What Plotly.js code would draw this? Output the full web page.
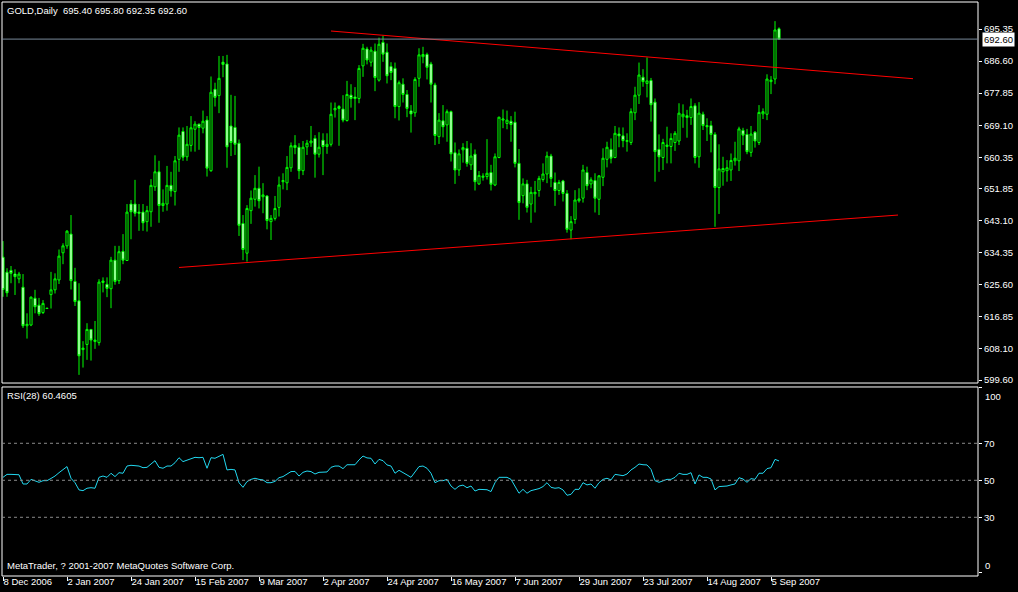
<!DOCTYPE html>
<html><head><meta charset="utf-8">
<script src="https://cdn.plot.ly/plotly-3.0.1.min.js"></script>
<style>html,body{margin:0;padding:0;background:#000;overflow:hidden}#chart{width:1018px;height:592px}</style>
</head><body><div id="chart"></div>
<script>
const symbolName = 'GOLD,Daily';
const rsiName = 'RSI(28)';
const copyright = 'MetaTrader, ? 2001-2007 MetaQuotes Software Corp.';

const openP = [
633.1,629.0,629.5,628.5,627.2,624.9,614.4,614.6,621.9,620.0,
618.0,619.2,622.9,624.2,626.9,634.3,636.2,639.4,626.5,621.2,
607.9,609.3,613.4,610.1,609.8,626.2,625.7,624.5,632.3,626.7,
634.7,632.2,647.6,647.6,645.4,645.4,642.8,645.5,652.3,656.4,
647.2,647.6,652.7,651.0,659.8,667.4,660.5,663.6,668.0,669.4,
668.3,670.5,656.7,678.9,677.2,686.3,685.8,668.9,668.5,664.2,
642.3,634.2,645.8,648.9,651.9,649.6,649.8,642.8,643.7,646.7,
653.7,653.4,657.5,663.6,663.1,656.7,663.2,664.3,665.5,661.2,
665.0,663.3,663.9,673.3,674.2,673.5,670.4,677.3,676.8,676.4,
685.3,689.9,686.3,689.3,681.4,691.7,689.0,685.1,684.6,674.2,
680.3,677.5,673.0,672.5,681.9,687.8,688.4,685.8,680.1,666.0,
670.3,669.2,672.8,661.6,656.9,662.4,662.8,658.3,661.2,653.1,
654.9,655.1,656.2,652.8,660.3,670.5,669.6,670.2,669.9,658.7,
649.9,653.1,647.6,650.4,651.3,654.3,655.8,660.7,653.5,651.3,
653.9,650.5,640.5,643.4,648.5,649.2,656.2,653.1,654.0,648.9,
654.9,659.8,662.5,660.3,666.7,666.2,664.7,664.4,672.5,677.3,
682.2,680.5,681.3,675.4,662.5,660.3,663.3,663.3,664.4,664.8,
671.4,671.7,671.2,674.4,660.5,672.1,669.0,669.0,666.6,652.1,
656.4,656.7,656.9,659.4,659.4,667.7,666.6,661.7,667.2,664.4,
672.2,672.1,681.0,681.7,695.40];

const highP = [
637.5,630.1,630.7,629.8,629.1,628.5,617.8,622.4,624.2,622.0,
621.4,619.3,629.1,628.7,635.2,636.9,640.5,644.6,630.2,626.0,
610.2,615.1,613.5,615.7,627.1,627.6,627.6,633.2,636.2,636.2,
639.4,647.6,648.7,654.2,647.6,647.6,647.1,654.4,660.9,659.4,
651.6,658.0,656.4,660.7,668.5,668.5,668.9,671.6,670.2,669.5,
673.1,671.6,682.4,680.7,688.0,688.0,688.3,677.4,677.1,665.2,
644.6,647.3,651.3,655.5,657.8,653.3,650.0,644.6,649.8,655.1,
656.0,660.7,664.4,666.4,664.2,664.8,665.1,668.9,666.4,667.2,
666.9,666.9,675.3,675.3,674.6,677.3,681.2,680.3,679.5,685.5,
691.3,690.5,690.5,691.4,693.0,693.5,691.4,686.3,686.2,681.3,
681.9,678.7,674.6,682.2,690.1,690.5,688.9,686.4,680.7,672.4,
674.6,673.4,673.1,664.4,662.5,664.2,664.8,664.2,662.5,656.6,
656.0,665.3,658.3,661.4,671.4,673.4,673.1,671.6,672.8,662.6,
654.6,654.2,652.3,653.9,655.3,658.7,661.9,661.3,656.2,654.2,
654.2,651.4,644.3,651.4,651.9,658.3,657.8,654.9,656.0,655.5,
662.8,664.6,665.5,668.9,668.5,668.5,666.9,673.7,679.6,686.2,
684.4,687.6,682.0,676.4,666.6,665.4,668.7,666.9,667.5,675.1,
674.8,673.3,676.4,675.1,675.4,672.8,671.0,670.3,667.2,663.9,
660.5,659.6,661.4,664.6,668.7,668.4,668.1,668.9,667.5,674.6,
673.7,683.0,682.5,697.5,695.80];

const lowP = [
622.3,622.3,626.0,622.8,626.0,613.8,610.9,614.3,617.8,617.1,
617.6,619.0,619.1,623.2,625.8,631.2,635.4,624.3,619.8,601.0,
603.0,605.1,604.9,608.1,609.0,623.5,622.2,619.2,625.6,625.8,
631.2,632.1,638.0,644.2,640.3,640.3,640.1,641.4,651.2,642.5,
645.5,645.8,649.6,647.2,656.4,659.4,659.4,661.9,661.9,662.4,
666.9,655.1,656.4,674.2,672.4,682.2,657.5,660.7,661.0,638.9,
632.3,631.9,642.2,646.9,646.4,645.1,640.7,637.8,643.1,644.2,
651.6,651.4,656.4,661.2,654.4,655.5,661.0,663.2,654.8,660.3,
655.5,661.3,663.3,671.2,663.5,669.9,670.1,673.9,670.5,675.1,
682.3,685.7,685.1,678.4,681.0,686.4,680.5,681.4,671.0,670.4,
675.3,671.3,667.1,671.4,679.6,686.0,681.6,675.3,663.7,664.0,
665.8,664.6,659.2,653.1,655.3,658.9,657.8,656.9,651.3,652.8,
654.0,654.3,651.3,652.5,660.1,668.3,668.0,664.6,657.6,643.3,
647.8,645.3,642.5,645.3,649.6,653.7,653.3,652.2,647.1,650.1,
648.3,639.8,638.0,642.2,648.0,648.0,651.4,651.9,645.3,644.6,
652.5,657.6,658.7,660.1,663.1,663.1,661.9,663.7,670.5,674.9,
679.6,676.7,670.1,653.7,656.4,656.9,658.7,658.7,662.1,663.7,
668.4,665.7,669.2,658.7,657.5,667.8,664.8,661.7,641.4,644.9,
652.6,653.7,653.9,658.1,656.6,663.7,661.2,660.5,663.0,663.7,
670.8,670.5,677.6,680.3,692.35];

const closeP = [
624.3,623.4,628.7,627.8,628.5,614.4,614.8,622.2,619.6,617.7,
620.5,619.1,624.2,627.2,633.4,636.2,640.2,626.7,621.0,606.2,
608.3,613.4,610.5,610.5,626.3,626.6,624.6,632.3,626.5,634.6,
632.3,645.4,645.5,645.1,645.1,642.5,645.8,652.7,656.4,647.2,
647.8,652.7,651.2,659.4,666.4,660.4,663.9,668.4,669.4,668.5,
670.2,657.4,678.1,676.7,681.9,685.7,663.2,664.4,663.9,641.8,
635.2,646.4,649.2,651.9,648.5,650.1,643.1,643.7,646.4,652.8,
654.0,657.6,663.5,663.0,656.7,663.1,664.2,664.8,661.2,663.1,
663.3,663.9,672.1,673.7,673.7,670.5,677.5,676.4,676.4,684.6,
690.1,686.9,689.6,682.1,691.2,688.5,682.6,683.5,674.2,680.7,
677.5,673.7,672.2,681.6,688.3,688.4,684.9,680.3,666.3,670.5,
668.7,672.8,661.3,656.9,661.3,663.0,658.7,660.7,653.7,655.4,
655.2,656.0,653.0,660.5,671.3,670.8,670.5,669.3,658.7,648.0,
653.1,646.7,650.8,650.8,654.6,655.8,660.7,654.6,651.3,653.5,
650.5,640.7,642.8,648.7,649.0,656.9,652.6,654.2,649.2,655.3,
660.1,663.1,660.1,666.9,666.2,664.9,664.9,672.8,677.3,682.8,
681.0,681.2,674.7,661.9,660.5,664.4,663.7,665.5,666.9,672.4,
672.1,671.2,674.2,660.3,672.4,669.0,668.7,666.6,652.1,657.2,
657.3,657.5,659.5,660.1,668.1,666.4,661.9,666.7,664.8,672.6,
672.8,681.7,681.4,695.1,692.60];

const rsiValues = [
51.6,53.2,53.2,53.2,53.0,48.0,48.0,50.5,49.8,48.9,
49.8,49.8,51.0,52.3,54.1,55.6,57.4,51.1,48.7,44.8,
44.4,45.7,46.0,45.7,51.6,52.3,51.6,53.8,52.0,54.1,
53.8,57.7,58.1,57.9,57.7,56.8,57.0,58.8,60.6,57.0,
56.5,57.7,57.7,59.5,62.2,60.1,61.0,61.9,62.4,62.2,
62.4,56.5,62.2,61.9,63.1,64.0,55.6,55.9,55.6,48.7,
46.2,49.3,50.5,51.1,50.5,50.2,48.7,48.7,49.4,51.4,
52.0,53.4,54.7,54.8,52.3,54.3,55.0,54.7,53.4,54.3,
54.3,54.5,57.0,57.7,57.7,56.3,58.4,58.4,58.4,61.0,
63.1,62.1,61.9,58.8,61.3,60.6,58.3,57.7,53.8,55.4,
54.3,52.9,51.6,54.7,57.4,57.7,56.5,53.8,48.7,49.8,
49.8,50.5,46.9,45.1,46.9,47.4,46.0,46.9,44.2,45.1,
45.1,44.9,43.9,48.7,51.6,51.6,51.6,50.5,46.6,43.0,
45.1,43.0,44.4,44.8,45.5,46.6,48.7,46.2,45.7,46.0,
44.8,41.9,42.4,45.1,45.1,48.7,47.5,48.0,45.7,48.7,
50.5,51.1,50.2,53.2,52.9,52.5,53.4,55.6,57.0,58.8,
58.4,58.3,55.9,49.8,48.9,49.8,50.5,50.5,51.6,53.8,
53.2,53.2,54.1,48.0,52.9,51.6,51.6,50.7,44.8,46.6,
46.6,46.9,47.5,48.0,51.4,50.7,48.9,50.9,50.5,53.8,
53.8,56.3,56.8,61.3,60.4605];

const dateTickBars = [0,16,32,48,64,80,96,112,128,144,160,176,192];
const dateTickLabels = ['8 Dec 2006','2 Jan 2007','24 Jan 2007','15 Feb 2007','9 Mar 2007','2 Apr 2007','24 Apr 2007','16 May 2007','7 Jun 2007','29 Jun 2007','23 Jul 2007','14 Aug 2007','5 Sep 2007'];
const priceTicks = ['695.35','686.60','677.85','669.10','660.35','651.85','643.10','634.35','625.60','616.85','608.10','599.60'];
const rsiTicks = ['100','70','50','30','0'];
const rsiLevels = [70,50,30];

const upperTrendBars = [82, 227.5];
const upperTrendPrices = [694.8, 681.8];
const lowerTrendBars = [44, 223.75];
const lowerTrendPrices = [630.3, 644.6];

const barIndex = openP.map((_, i) => i);
const last = openP.length - 1;
const FONT = 'Liberation Sans, Arial, sans-serif';
const FS = 9.5;
const LIME = '#00ff00';
const WHITE = '#ffffff';

const traces = [
  {type:'candlestick', x: barIndex, open: openP, high: highP, low: lowP, close: closeP,
   xaxis:'x', yaxis:'y', whiskerwidth:0, hoverinfo:'none',
   increasing:{line:{color:LIME,width:1}, fillcolor:'#000000'},
   decreasing:{line:{color:LIME,width:1}, fillcolor:WHITE}},
  {type:'scatter', mode:'lines', x: upperTrendBars, y: upperTrendPrices, xaxis:'x', yaxis:'y',
   line:{color:'#ff0000', width:1}, hoverinfo:'none'},
  {type:'scatter', mode:'lines', x: lowerTrendBars, y: lowerTrendPrices, xaxis:'x', yaxis:'y',
   line:{color:'#ff0000', width:1}, hoverinfo:'none'},
  {type:'scatter', mode:'lines', x: barIndex, y: rsiValues, xaxis:'x', yaxis:'y2',
   line:{color:'#22d8f0', width:1}, hoverinfo:'none'}
];

const mainDomain = [0.3362, 1];
const rsiDomain = [0, 0.3293];

const shapes = [
  {type:'rect', xref:'paper', yref:'paper', x0:0, x1:1, y0:mainDomain[0], y1:mainDomain[1], line:{color:WHITE, width:1}},
  {type:'rect', xref:'paper', yref:'paper', x0:0, x1:1, y0:rsiDomain[0], y1:rsiDomain[1], line:{color:WHITE, width:1}},
  {type:'line', xref:'paper', yref:'y', x0:0, x1:1, y0:closeP[last], y1:closeP[last], line:{color:'#778899', width:1}}
].concat(rsiLevels.map(v => ({type:'line', xref:'paper', yref:'y2', x0:0, x1:1, y0:v, y1:v,
  line:{color:'#8a8a8a', width:1, dash:'3px,3px'}})));

// RSI scale end labels (100 at top, 0 at bottom) sit inside the panel as in MetaTrader
const rsiEndLabels = [rsiTicks[0], rsiTicks[rsiTicks.length - 1]];

const annotations = [
  {xref:'paper', yref:'paper', x:0.003, y:0.998, xanchor:'left', yanchor:'top', showarrow:false,
   text: symbolName + '  ' + [openP[last], highP[last], lowP[last], closeP[last]].map(v => v.toFixed(2)).join(' '),
   font:{family:FONT, size:FS, color:WHITE}},
  {xref:'paper', yref:'paper', x:0.003, y:0.3275, xanchor:'left', yanchor:'top', showarrow:false,
   text: rsiName + ' ' + rsiValues[last].toFixed(4), font:{family:FONT, size:FS, color:WHITE}},
  {xref:'paper', yref:'paper', x:0.003, y:0.0175, xanchor:'left', yanchor:'middle', showarrow:false,
   text: copyright, font:{family:FONT, size:FS, color:WHITE}},
  {xref:'paper', yref:'y', x:1.0045, y:closeP[last], xanchor:'left', yanchor:'middle', showarrow:false,
   text: closeP[last].toFixed(2), bgcolor:WHITE, borderpad:1, font:{family:FONT, size:FS, color:'#000000'}},
  {xref:'paper', yref:'y2', x:1.005, y:Number(rsiEndLabels[0]), xanchor:'left', yanchor:'top', yshift:-1, showarrow:false,
   text: rsiEndLabels[0], font:{family:FONT, size:FS, color:WHITE}},
  {xref:'paper', yref:'y2', x:1.005, y:Number(rsiEndLabels[1]), xanchor:'left', yanchor:'bottom', yshift:0, showarrow:false,
   text: rsiEndLabels[1], font:{family:FONT, size:FS, color:WHITE}}
];

const layout = {
  width:1018, height:592,
  paper_bgcolor:'#000000', plot_bgcolor:'#000000',
  margin:{l:2, r:40, t:2, b:16},
  showlegend:false, boxgap:0.25,
  font:{family:FONT, size:FS, color:WHITE},
  xaxis:{anchor:'y2', range:[-0.25, 243.75], type:'linear', rangeslider:{visible:false},
    tickmode:'array', tickvals:dateTickBars, ticktext:dateTickLabels, tickangle:0,
    ticks:'outside', ticklen:4, tickcolor:WHITE, tickwidth:1, ticklabelstandoff:-3,
    ticklabelposition:'outside right', tickfont:{family:FONT, size:FS, color:WHITE},
    showgrid:false, zeroline:false, showline:false, fixedrange:true},
  yaxis:{domain:mainDomain, anchor:'x', side:'right', range:[598.78, 702.72],
    tickmode:'array', tickvals:priceTicks.map(Number), ticktext:priceTicks,
    ticks:'outside', ticklen:3, tickcolor:WHITE, tickfont:{family:FONT, size:FS, color:WHITE},
    showgrid:false, zeroline:false, showline:false, fixedrange:true},
  yaxis2:{domain:rsiDomain, anchor:'x', side:'right', range:[-1.73, 100.43],
    tickmode:'array', tickvals:rsiTicks.map(Number),
    ticktext:rsiTicks.map(t => rsiEndLabels.includes(t) ? '' : t),
    ticks:'outside', ticklen:3, tickcolor:WHITE, tickfont:{family:FONT, size:FS, color:WHITE},
    showgrid:false, zeroline:false, showline:false, fixedrange:true},
  shapes: shapes,
  annotations: annotations
};

Plotly.newPlot('chart', traces, layout, {staticPlot:true, displayModeBar:false});
</script></body></html>
